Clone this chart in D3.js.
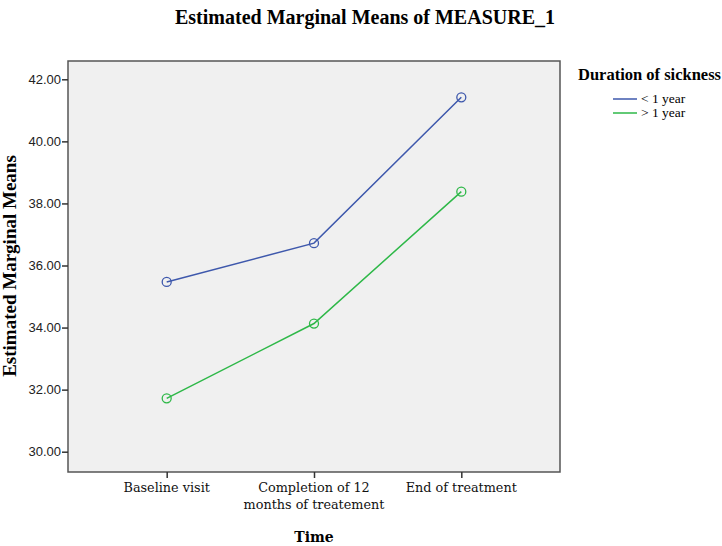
<!DOCTYPE html>
<html>
<head>
<meta charset="utf-8">
<script src="https://cdn.jsdelivr.net/npm/d3@7"></script>
<style>
    body { margin: 0; background: #fff; }
    .serif { font-family: "Liberation Serif", "Times New Roman", serif; }
</style>
</head>
<body>
<div id="chart"></div>
<script>
// chart data
const timePoints = ["Baseline visit", "Completion of 12 months of treatement", "End of treatment"];
const timeLabels = [["Baseline visit"], ["Completion of 12", "months of treatement"], ["End of treatment"]];
const groups = ["< 1 year", "> 1 year"];
const lessThanOneYear = [35.47, 36.72, 41.42];
const moreThanOneYear = [31.72, 34.13, 38.38];
const yTicks = [30, 32, 34, 36, 38, 40, 42];
const colors = ["#3e58ac", "#2eb848"];

function drawChart() {
    let width = 722, height = 546;
    let box = {left: 68, right: 560, top: 61, bottom: 472};

    let svg = d3.select("#chart").append("svg")
        .attr("width", width)
        .attr("height", height);

    let x = d3.scalePoint()
        .domain(timePoints)
        .range([box.left, box.right])
        .padding(0.67);

    let y = d3.scaleLinear()
        .domain([30, 42])
        .range([451.7, 79.3]);

    // plot area
    svg.append("rect")
        .attr("x", box.left)
        .attr("y", box.top)
        .attr("width", box.right - box.left)
        .attr("height", box.bottom - box.top)
        .attr("fill", "#f0f0f0")
        .attr("stroke", "#555")
        .attr("stroke-width", 1.5);

    // y axis
    let yAxis = svg.append("g")
        .attr("transform", "translate(" + box.left + ",0)")
        .call(d3.axisLeft(y).tickValues(yTicks).tickSize(6).tickFormat(d3.format(".2f")));
    yAxis.select(".domain").remove();
    yAxis.selectAll("line").attr("stroke", "#333").attr("stroke-width", 1.5);
    yAxis.selectAll("text")
        .attr("font-family", "Arial, 'Liberation Sans', sans-serif")
        .attr("font-size", 13)
        .attr("fill", "#222")
        .attr("x", -7);

    // x axis
    let xAxis = svg.append("g")
        .attr("transform", "translate(0," + box.bottom + ")")
        .call(d3.axisBottom(x).tickSize(6).tickFormat(""));
    xAxis.select(".domain").remove();
    xAxis.selectAll("line").attr("stroke", "#333").attr("stroke-width", 1.5);

    timePoints.forEach(function (t, i) {
        let label = svg.append("text")
            .attr("x", x(t))
            .attr("y", 492)
            .attr("text-anchor", "middle")
            .attr("font-family", "'DejaVu Serif', serif")
            .attr("font-size", 12.8)
            .attr("fill", "#111");
        timeLabels[i].forEach(function (line, j) {
            label.append("tspan")
                .attr("x", x(t))
                .attr("dy", j === 0 ? 0 : 17)
                .text(line);
        });
    });

    // titles
    svg.append("text")
        .attr("class", "serif")
        .attr("x", 365)
        .attr("y", 24)
        .attr("text-anchor", "middle")
        .attr("font-weight", "bold")
        .attr("font-size", 20)
        .text("Estimated Marginal Means of MEASURE_1");

    svg.append("text")
        .attr("class", "serif")
        .attr("transform", "translate(16,266) rotate(-90)")
        .attr("text-anchor", "middle")
        .attr("font-weight", "bold")
        .attr("font-size", 19)
        .text("Estimated Marginal Means");

    svg.append("text")
        .attr("x", x(timePoints[1]))
        .attr("y", 542)
        .attr("text-anchor", "middle")
        .attr("font-family", "'DejaVu Serif', serif")
        .attr("font-weight", "bold")
        .attr("font-size", 14)
        .text("Time");

    // series
    let series = [lessThanOneYear, moreThanOneYear];
    let line = d3.line()
        .x((d, i) => x(timePoints[i]))
        .y(d => y(d));

    series.forEach(function (values, k) {
        svg.append("path")
            .datum(values)
            .attr("d", line)
            .attr("fill", "none")
            .attr("stroke", colors[k])
            .attr("stroke-width", 1.5);

        svg.selectAll(".pt" + k)
            .data(values)
            .enter().append("circle")
            .attr("class", "pt" + k)
            .attr("cx", (d, i) => x(timePoints[i]))
            .attr("cy", d => y(d))
            .attr("r", 4.5)
            .attr("fill", "none")
            .attr("stroke", colors[k])
            .attr("stroke-width", 1.3);
    });

    // legend
    let legend = svg.append("g");
    legend.append("text")
        .attr("class", "serif")
        .attr("x", 578)
        .attr("y", 80)
        .attr("font-weight", "bold")
        .attr("font-size", 16.5)
        .text("Duration of sickness");

    groups.forEach(function (g, k) {
        let ly = 99 + k * 14;
        legend.append("line")
            .attr("x1", 613)
            .attr("x2", 637)
            .attr("y1", ly)
            .attr("y2", ly)
            .attr("stroke", colors[k])
            .attr("stroke-width", 1.5);
        legend.append("text")
            .attr("class", "serif")
            .attr("x", 641)
            .attr("y", ly + 4)
            .attr("font-size", 13.5)
            .text(g);
    });
}

drawChart();
</script>
</body>
</html>
